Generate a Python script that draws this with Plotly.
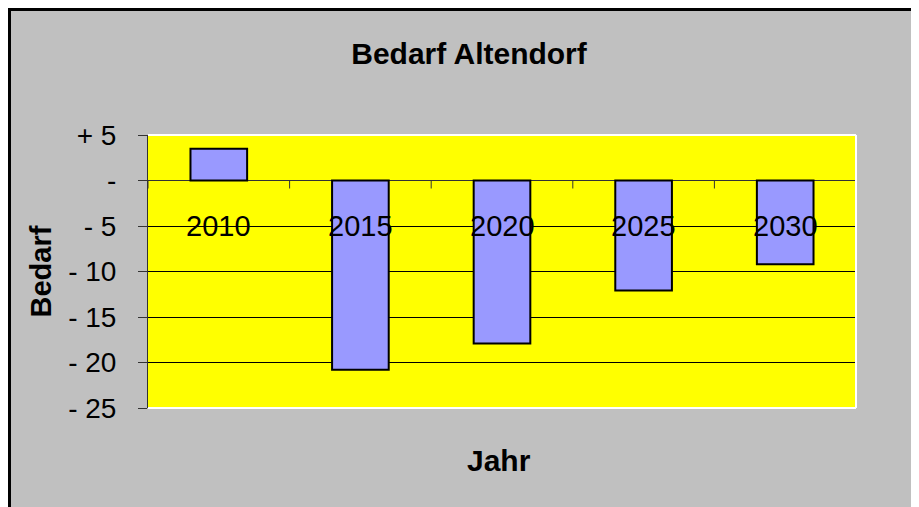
import plotly.graph_objects as go

years = ["2010", "2015", "2020", "2025", "2030"]
bedarf = [3.5, -20.8, -17.9, -12.1, -9.2]
tick_vals = [5, 0, -5, -10, -15, -20, -25]
tick_text = ["+ 5", "-", "- 5", "- 10", "- 15", "- 20", "- 25"]
label_level = -5

FONT = "Arial, Liberation Sans, sans-serif"
OFF = 8  # page body margin
W, H = 919 - OFF, 507 - OFF
L, T = 148 - OFF, 135 - OFF
PW, PH = 708, 273
R, B = W - L - PW, H - T - PH

def px_x(p):
    return (p - OFF - L) / PW

def px_y(p):
    return (T + PH - (p - OFF)) / PH

fig = go.Figure()
fig.add_trace(go.Bar(
    x=years, y=bedarf, width=0.4,
    marker=dict(color="#9999FF", line=dict(color="black", width=2)),
    hoverinfo="x+y",
))

shapes = []
# category ticks on the zero line
for i in range(len(years) + 1):
    shapes.append(dict(type="line", xref="x", yref="y", x0=i - 0.5, x1=i - 0.5,
                       ysizemode="pixel", yanchor=0, y0=0, y1=-8,
                       line=dict(color="#333333", width=1), layer="above"))
# white plot-area edges (top, right, bottom)
shapes += [
    dict(type="line", xref="paper", yref="paper", x0=0, x1=1, y0=1, y1=1,
         line=dict(color="white", width=2)),
    dict(type="line", xref="paper", yref="paper", x0=1, x1=1, y0=0, y1=1,
         line=dict(color="white", width=2)),
    dict(type="line", xref="paper", yref="paper", x0=0, x1=1, y0=0, y1=0,
         line=dict(color="white", width=2)),
]
# black chart border (left and top)
shapes += [
    dict(type="rect", xref="paper", yref="paper", x0=px_x(8), x1=px_x(11), y0=px_y(510), y1=px_y(8),
         fillcolor="black", line=dict(width=0)),
    dict(type="rect", xref="paper", yref="paper", x0=px_x(8), x1=px_x(922), y0=px_y(11), y1=px_y(8),
         fillcolor="black", line=dict(width=0)),
]

annotations = []
for i, yr in enumerate(years):
    annotations.append(dict(x=i, y=label_level, xref="x", yref="y", text=yr,
                            showarrow=False, xanchor="center", yanchor="middle",
                            font=dict(family=FONT, size=29, color="black")))
annotations.append(dict(x=px_x(40), y=0.5, xref="paper", yref="paper", text="<b>Bedarf</b>",
                        textangle=-90, showarrow=False, xanchor="center", yanchor="middle",
                        font=dict(family=FONT, size=29, color="black")))
annotations.append(dict(x=px_x(499), y=px_y(460), xref="paper", yref="paper", text="<b>Jahr</b>",
                        showarrow=False, xanchor="center", yanchor="middle",
                        font=dict(family=FONT, size=30, color="black")))

fig.update_layout(
    width=W, height=H,
    margin=dict(l=L, r=R, t=T, b=B, pad=0),
    paper_bgcolor="#C0C0C0",
    plot_bgcolor="#FFFF00",
    showlegend=False,
    title=dict(text="<b>Bedarf Altendorf</b>", x=(469 - OFF) / W, xanchor="center",
               y=1 - (53 - OFF) / H, yanchor="middle", yref="container",
               font=dict(family=FONT, size=30, color="black")),
    xaxis=dict(type="category", showticklabels=False, showgrid=False, ticks="",
               zeroline=False, showline=False, range=[-0.5, 4.5]),
    yaxis=dict(range=[-25, 5], tickvals=tick_vals, ticktext=tick_text,
               ticks="outside", ticklen=9, tickcolor="#333333", tickwidth=1,
               ticklabelstandoff=16,
               tickfont=dict(family=FONT, size=28, color="black"),
               showgrid=True, gridcolor="black", gridwidth=1,
               zeroline=True, zerolinecolor="#333333", zerolinewidth=1,
               showline=True, linecolor="#333333", linewidth=1),
    shapes=shapes,
    annotations=annotations,
    bargap=0.6,
)

fig.write_html("out.html",
               post_script="document.documentElement.style.overflow='hidden';")
